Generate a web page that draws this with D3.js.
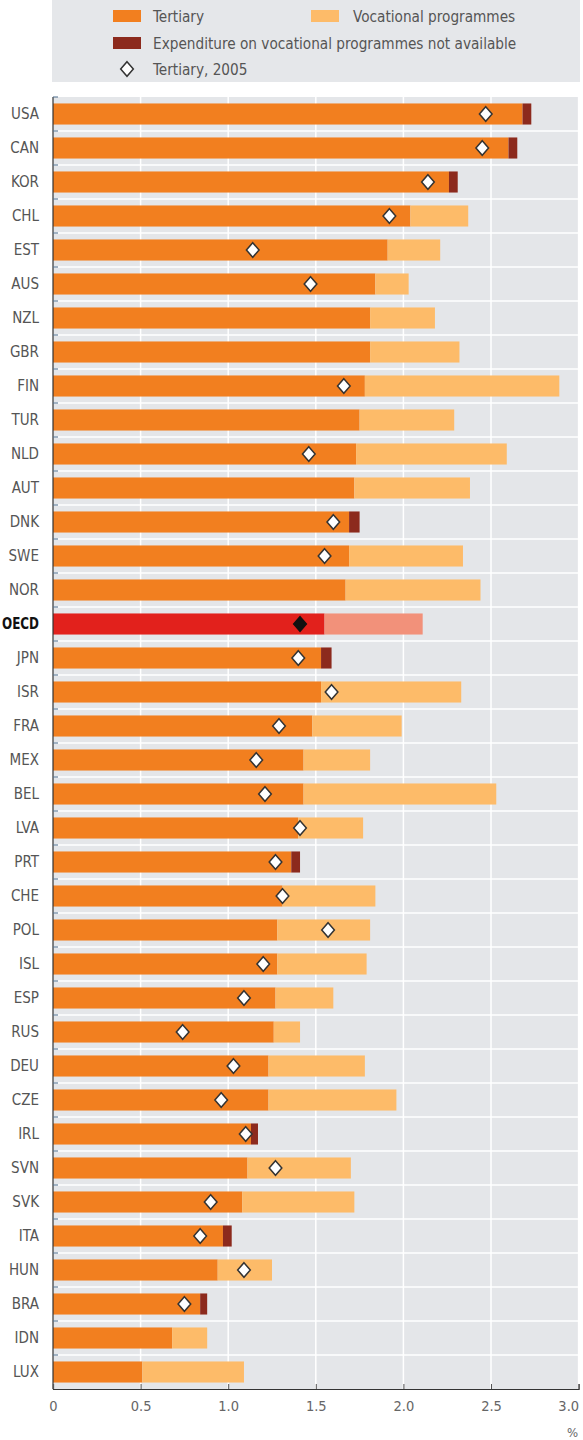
<!DOCTYPE html>
<html>
<head>
<meta charset="utf-8">
<script src="https://cdn.jsdelivr.net/npm/d3@7"></script>
<style>
  body { margin: 0; background: #fff; }
  text { font-family: "DejaVu Sans Condensed", "Liberation Sans Narrow", sans-serif; }
</style>
</head>
<body>
<div id="graph"></div>
<script>
// categories, top to bottom
var countries = ["USA","CAN","KOR","CHL","EST","AUS","NZL","GBR","FIN","TUR","NLD","AUT","DNK","SWE","NOR","OECD",
  "JPN","ISR","FRA","MEX","BEL","LVA","PRT","CHE","POL","ISL","ESP","RUS","DEU","CZE","IRL","SVN","SVK","ITA","HUN","BRA","IDN","LUX"];
// tertiary expenditure, % of GDP
var tertiary = [2.68,2.60,2.26,2.04,1.91,1.84,1.81,1.81,1.78,1.75,1.73,1.72,1.69,1.69,1.67,1.55,
  1.53,1.53,1.48,1.43,1.43,1.40,1.36,1.31,1.28,1.28,1.27,1.26,1.23,1.23,1.13,1.11,1.08,0.97,0.94,0.84,0.68,0.51];
// vocational programmes (added on top of tertiary)
var vocational = [0,0,0,0.33,0.30,0.19,0.37,0.51,1.11,0.54,0.86,0.66,0,0.65,0.77,0.56,
  0,0.80,0.51,0.38,1.10,0.37,0,0.53,0.53,0.51,0.33,0.15,0.55,0.73,0,0.59,0.64,0,0.31,0,0.20,0.58];
// expenditure on vocational programmes not available
var notAvailable = [0.05,0.05,0.05,0,0,0,0,0,0,0,0,0,0.06,0,0,0,
  0.06,0,0,0,0,0,0.05,0,0,0,0,0,0,0,0.04,0,0,0.05,0,0.04,0,0];
// tertiary, 2005
var tertiary2005 = [2.47,2.45,2.14,1.92,1.14,1.47,null,null,1.66,null,1.46,null,1.60,1.55,null,1.41,
  1.40,1.59,1.29,1.16,1.21,1.41,1.27,1.31,1.57,1.20,1.09,0.74,1.03,0.96,1.10,1.27,0.90,0.84,1.09,0.75,null,null];
var xTicks = [0, 0.5, 1.0, 1.5, 2.0, 2.5, 3.0];

var colTert = "#f27f1f", colVoc = "#fdbb69", colNA = "#8c2a1d";
var colTertO = "#e2211c", colVocO = "#f2917a";

var W = 583, H = 1440;
var margin = {top: 97, left: 53, right: 4.4, bottom: 51};

var svg = d3.select("#graph").append("svg")
  .attr("width", W).attr("height", H);

var data = countries.map(function (c, i) {
  return {name: c, t: tertiary[i], v: vocational[i], na: notAvailable[i], d05: tertiary2005[i]};
});

var x = d3.scaleLinear().domain([0, 3]).range([margin.left, W - margin.right]);
var y = d3.scaleBand().domain(countries).range([margin.top, H - margin.bottom]).paddingInner(0.38).paddingOuter(0.19);

// legend box
var lg = svg.append("g");
lg.append("rect").attr("x", 52).attr("y", 0).attr("width", 528).attr("height", 82).attr("fill", "#e5e7ea");
function swatch(px, py, col) {
  lg.append("rect").attr("x", px).attr("y", py).attr("width", 28).attr("height", 12).attr("fill", col);
}
function ltext(px, py, s) {
  lg.append("text").attr("x", px).attr("y", py).attr("font-size", 15.2).attr("fill", "#555").text(s);
}
swatch(113, 10, colTert); ltext(153, 21.5, "Tertiary");
swatch(311, 10, colVoc); ltext(353, 21.5, "Vocational programmes");
swatch(113, 37, colNA); ltext(153, 48.5, "Expenditure on vocational programmes not available");
ltext(153, 75, "Tertiary, 2005");

// diamond shape
var diamond = {
  draw: function (ctx, size) {
    var w = Math.sqrt(size) * 0.5, h = w * 1.15;
    ctx.moveTo(0, -h); ctx.lineTo(w, 0); ctx.lineTo(0, h); ctx.lineTo(-w, 0); ctx.closePath();
  }
};
var sym = d3.symbol().type(diamond).size(160);
lg.append("path").attr("d", sym()).attr("transform", "translate(127,69)")
  .attr("fill", "#fff").attr("stroke", "#333").attr("stroke-width", 1.5);

// plot background
var y0 = margin.top, y1 = H - margin.bottom;
svg.append("rect").attr("x", x(0)).attr("y", y0).attr("width", x(3) - x(0)).attr("height", y1 - y0)
  .attr("fill", "#e4e6e9");

// vertical gridlines
svg.append("g").selectAll("line").data(xTicks.slice(1)).join("line")
  .attr("x1", function (d) { return x(d); }).attr("x2", function (d) { return x(d); })
  .attr("y1", y0).attr("y2", y1).attr("stroke", "#fff").attr("stroke-width", 1.5);

// horizontal separators
var step = y.step();
svg.append("g").selectAll("line").data(countries.slice(1)).join("line")
  .attr("x1", x(0)).attr("x2", x(3))
  .attr("y1", function (d) { return y(d) - (step - y.bandwidth()) / 2; })
  .attr("y2", function (d) { return y(d) - (step - y.bandwidth()) / 2; })
  .attr("stroke", "#fff").attr("stroke-width", 1.5);

// bars
var bars = svg.append("g");
bars.selectAll(".tert").data(data).join("rect")
  .attr("x", x(0)).attr("y", function (d) { return y(d.name); })
  .attr("width", function (d) { return x(d.t) - x(0); })
  .attr("height", y.bandwidth())
  .attr("fill", function (d) { return d.name == "OECD" ? colTertO : colTert; });
bars.selectAll(".voc").data(data.filter(function (d) { return d.v > 0; })).join("rect")
  .attr("x", function (d) { return x(d.t); }).attr("y", function (d) { return y(d.name); })
  .attr("width", function (d) { return x(d.t + d.v) - x(d.t); })
  .attr("height", y.bandwidth())
  .attr("fill", function (d) { return d.name == "OECD" ? colVocO : colVoc; });
bars.selectAll(".na").data(data.filter(function (d) { return d.na > 0; })).join("rect")
  .attr("x", function (d) { return x(d.t); }).attr("y", function (d) { return y(d.name); })
  .attr("width", function (d) { return x(d.t + d.na) - x(d.t); })
  .attr("height", y.bandwidth())
  .attr("fill", colNA);

// 2005 markers
svg.append("g").selectAll("path").data(data.filter(function (d) { return d.d05 != null; })).join("path")
  .attr("d", sym())
  .attr("transform", function (d) { return "translate(" + x(d.d05) + "," + (y(d.name) + y.bandwidth() / 2) + ")"; })
  .attr("fill", function (d) { return d.name == "OECD" ? "#111" : "#fff"; })
  .attr("stroke", function (d) { return d.name == "OECD" ? "#111" : "#333"; })
  .attr("stroke-width", 1.5);

// left axis
svg.append("line").attr("x1", x(0)).attr("x2", x(0)).attr("y1", y0).attr("y2", y1)
  .attr("stroke", "#333").attr("stroke-width", 1.2);
svg.append("g").selectAll("line").data(countries).join("line")
  .attr("x1", x(0)).attr("x2", x(0) + 5)
  .attr("y1", function (d) { return y(d) - (step - y.bandwidth()) / 2; })
  .attr("y2", function (d) { return y(d) - (step - y.bandwidth()) / 2; })
  .attr("stroke", "#4a6a8a").attr("stroke-width", 1);
var labels = svg.append("g").selectAll("text").data(countries).join("text")
  .attr("x", 39).attr("y", function (d) { return y(d) + y.bandwidth() / 2; })
  .attr("dy", "0.36em").attr("text-anchor", "end")
  .attr("font-size", 15)
  .attr("font-weight", function (d) { return d == "OECD" ? "bold" : "normal"; })
  .attr("fill", function (d) { return d == "OECD" ? "#111" : "#555"; })
  .text(function (d) { return d; });
// squeeze the bold OECD label so it fits the margin
labels.filter(function (d) { return d == "OECD"; })
  .attr("textLength", 37).attr("lengthAdjust", "spacingAndGlyphs");

// bottom axis
var xAxis = svg.append("g").attr("transform", "translate(0," + y1 + ")")
  .call(d3.axisBottom(x).tickValues(xTicks).tickSize(-5).tickPadding(12)
    .tickFormat(function (d) { return d == 0 ? "0" : d3.format(".1f")(d); }));
xAxis.select(".domain").attr("stroke", "#333").attr("stroke-width", 1.2);
xAxis.selectAll(".tick line").attr("stroke", "#555");
xAxis.selectAll(".tick text").attr("font-size", 14.5).attr("fill", "#666")
  .attr("font-family", "DejaVu Sans Condensed, sans-serif")
  .attr("text-anchor", function (d) { return d == 3 ? "end" : "middle"; });
svg.append("text").attr("x", 578).attr("y", 1437).attr("text-anchor", "end")
  .attr("font-size", 13).attr("fill", "#666").text("%");
</script>
</body>
</html>
